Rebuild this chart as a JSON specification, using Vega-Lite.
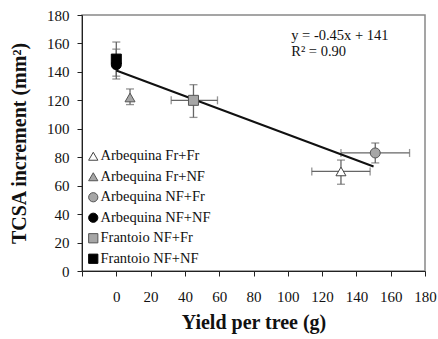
{
  "$schema": "https://vega.github.io/schema/vega-lite/v6.json",
  "width": 343,
  "height": 256,
  "autosize": {"type": "none"},
  "padding": {"left": 82, "top": 15, "right": 13, "bottom": 68},
  "background": "white",
  "config": {
    "font": "Liberation Serif",
    "view": {"stroke": "#888888", "strokeWidth": 1.5},
    "axis": {
      "grid": false,
      "domainColor": "#222222",
      "tickColor": "#222222",
      "labelColor": "#111111",
      "titleColor": "#111111",
      "labelFont": "Liberation Serif",
      "titleFont": "Liberation Serif",
      "labelFontSize": 15,
      "titleFontSize": 20,
      "titleFontWeight": "bold",
      "labelOverlap": false,
      "labelFlush": false,
      "labelSeparation": 0,
      "tickSize": 5
    },
    "axisX": {"labelOverlap": false},
    "axisY": {"labelOverlap": false},
    "legend": {
      "orient": "none",
      "legendX": 4,
      "legendY": 134,
      "padding": 0,
      "labelFont": "Liberation Serif",
      "labelFontSize": 14.5,
      "labelColor": "#111111",
      "symbolSize": 85,
      "symbolStrokeWidth": 1,
      "rowPadding": 5.5,
      "labelOffset": 0
    }
  },
  "datasets": {
    "pts": [
      {"series": "Arbequina Fr+Fr", "x": 131, "y": 70, "ylo": 61, "yhi": 78, "xlo": 114, "xhi": 148},
      {"series": "Arbequina Fr+NF", "x": 8, "y": 122, "ylo": 117, "yhi": 128},
      {"series": "Arbequina NF+Fr", "x": 151, "y": 83, "ylo": 76, "yhi": 90, "xlo": 131, "xhi": 171},
      {"series": "Arbequina NF+NF", "x": 0, "y": 145, "ylo": 135, "yhi": 156},
      {"series": "Frantoio NF+Fr", "x": 45, "y": 120, "ylo": 108, "yhi": 131, "xlo": 32, "xhi": 59},
      {"series": "Frantoio NF+NF", "x": 0, "y": 149, "ylo": 137, "yhi": 161}
    ],
    "fit": [
      {"x": 0, "y": 141},
      {"x": 150, "y": 73.5}
    ],
    "eq": [
      {"x": 102, "y": 165, "t": "y = -0.45x + 141"},
      {"x": 102, "y": 154, "t": "R² = 0.90"}
    ]
  },
  "encoding": {},
  "layer": [
    {
      "data": {"name": "pts"},
      "mark": {"type": "errorbar", "ticks": {"size": 8}, "color": "#666666", "thickness": 1.3},
      "encoding": {
        "x": {"field": "x", "type": "quantitative", "title": "Yield per tree (g)",
          "scale": {"domain": [-20, 180], "nice": false, "zero": false},
          "axis": {"values": [-20, 0, 20, 40, 60, 80, 100, 120, 140, 160, 180], "tickCount": 11, "labelExpr": "datum.value < 0 ? '' : datum.label", "labelOverlap": false, "labelPadding": 13, "titlePadding": 8}},
        "y": {"field": "ylo", "type": "quantitative", "title": "TCSA increment (mm²)",
          "scale": {"domain": [0, 180], "nice": false},
          "axis": {"values": [0, 20, 40, 60, 80, 100, 120, 140, 160, 180], "tickCount": 10, "labelOverlap": false, "labelPadding": 8, "titlePadding": 17}},
        "y2": {"field": "yhi"}
      }
    },
    {
      "data": {"name": "pts"},
      "transform": [{"filter": "isValid(datum.xlo)"}],
      "mark": {"type": "errorbar", "ticks": {"size": 8}, "color": "#666666", "thickness": 1.3},
      "encoding": {
        "y": {"field": "y", "type": "quantitative", "title": "TCSA increment (mm²)"},
        "x": {"field": "xlo", "type": "quantitative", "title": "Yield per tree (g)"},
        "x2": {"field": "xhi"}
      }
    },
    {
      "data": {"name": "fit"},
      "mark": {"type": "line", "color": "#111111", "strokeWidth": 2},
      "encoding": {
        "x": {"field": "x", "type": "quantitative", "title": "Yield per tree (g)"},
        "y": {"field": "y", "type": "quantitative", "title": "TCSA increment (mm²)"}
      }
    },
    {
      "data": {"name": "pts"},
      "mark": {"type": "point", "size": 100, "strokeWidth": 1, "opacity": 1, "fillOpacity": 1},
      "encoding": {
        "x": {"field": "x", "type": "quantitative", "title": "Yield per tree (g)"},
        "y": {"field": "y", "type": "quantitative", "title": "TCSA increment (mm²)"},
        "shape": {
          "field": "series", "type": "nominal", "title": null,
          "scale": {"domain": ["Arbequina Fr+Fr", "Arbequina Fr+NF", "Arbequina NF+Fr", "Arbequina NF+NF", "Frantoio NF+Fr", "Frantoio NF+NF"],
                    "range": ["triangle-up", "triangle-up", "circle", "circle", "square", "square"]}
        },
        "fill": {
          "field": "series", "type": "nominal", "title": null,
          "scale": {"domain": ["Arbequina Fr+Fr", "Arbequina Fr+NF", "Arbequina NF+Fr", "Arbequina NF+NF", "Frantoio NF+Fr", "Frantoio NF+NF"],
                    "range": ["#ffffff", "#a6a6a6", "#a6a6a6", "#000000", "#a6a6a6", "#000000"]}
        },
        "stroke": {
          "field": "series", "type": "nominal", "title": null,
          "scale": {"domain": ["Arbequina Fr+Fr", "Arbequina Fr+NF", "Arbequina NF+Fr", "Arbequina NF+NF", "Frantoio NF+Fr", "Frantoio NF+NF"],
                    "range": ["#444444", "#555555", "#555555", "#000000", "#555555", "#000000"]}
        }
      }
    },
    {
      "data": {"name": "eq"},
      "mark": {"type": "text", "align": "left", "baseline": "middle", "fontSize": 14.5, "font": "Liberation Serif", "color": "#111111"},
      "encoding": {
        "x": {"field": "x", "type": "quantitative"},
        "y": {"field": "y", "type": "quantitative"},
        "text": {"field": "t"}
      }
    }
  ]
}
